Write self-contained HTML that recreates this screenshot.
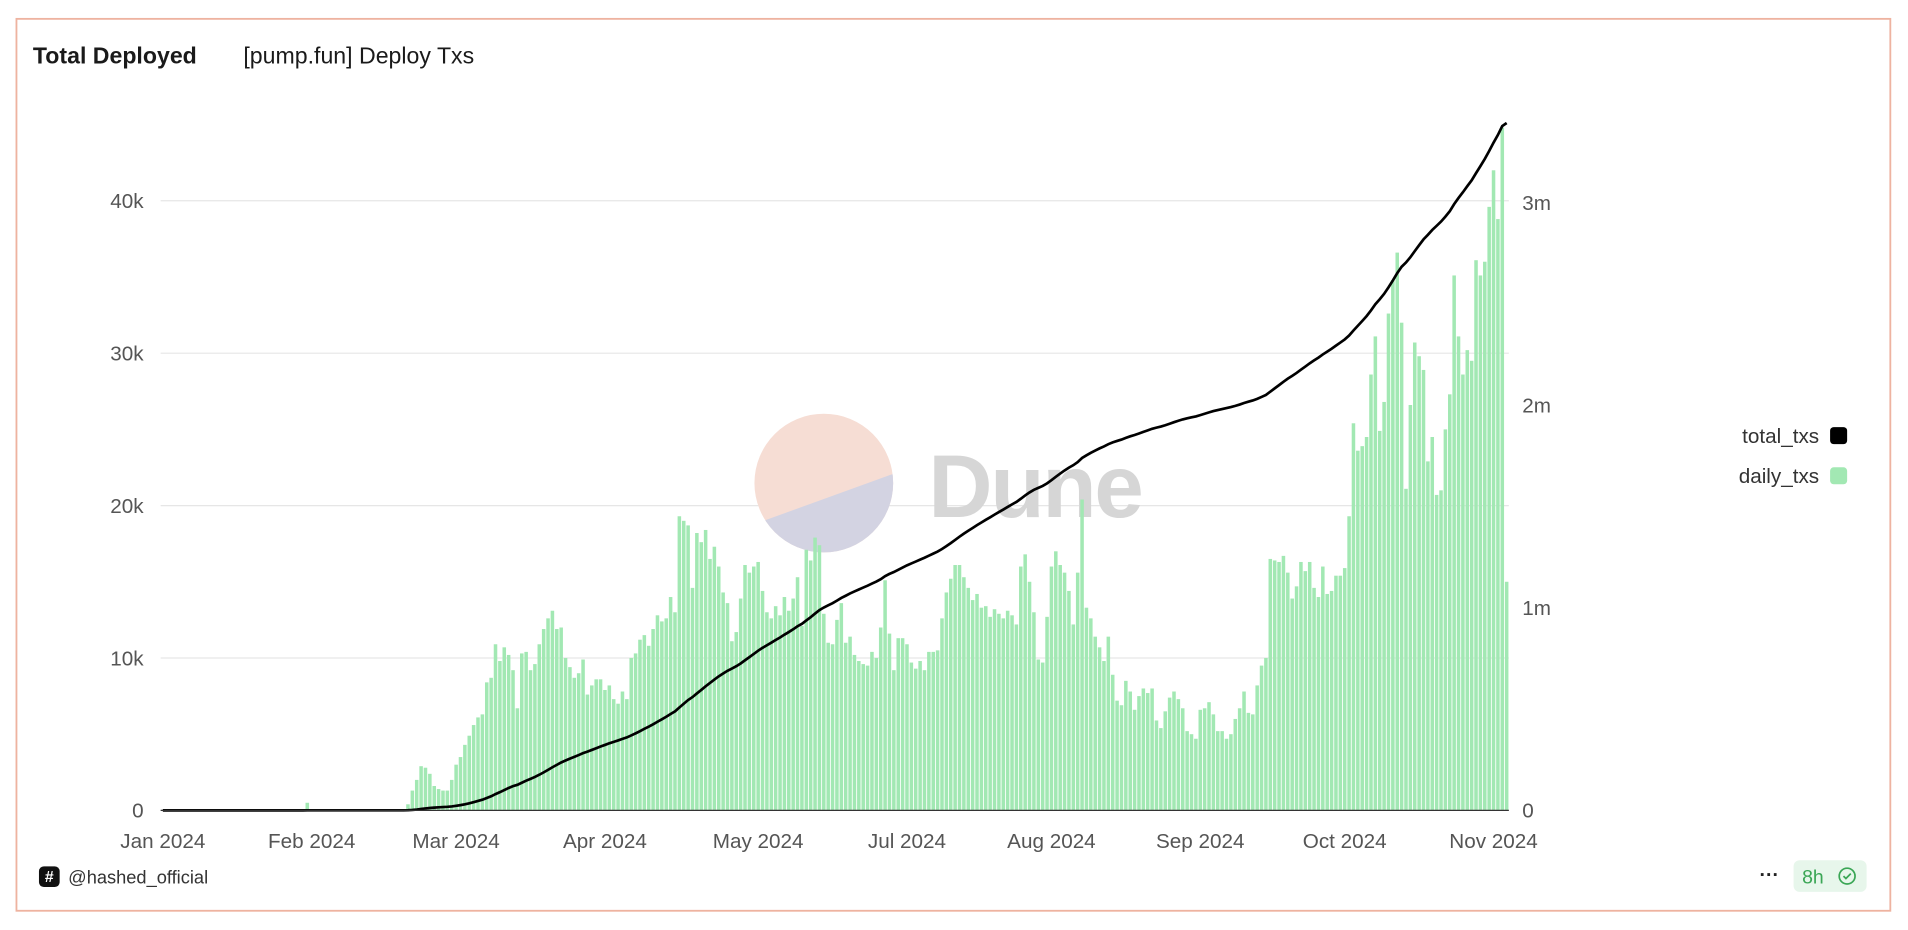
<!DOCTYPE html>
<html><head><meta charset="utf-8"><style>
html,body{margin:0;padding:0;background:#fff;width:1908px;height:930px;overflow:hidden}
svg{display:block;font-family:"Liberation Sans",sans-serif}
</style></head><body>
<svg id="chart" width="1908" height="930" viewBox="0 0 1568 764.3" xmlns="http://www.w3.org/2000/svg">
<rect x="13.5" y="15.5" width="1540" height="733" fill="#fff" stroke="#eeb3a0" stroke-width="1.5"/>
<text x="27" y="52" font-size="19" font-weight="bold" fill="#1a1a1a">Total Deployed</text>
<text x="200" y="52" font-size="19" fill="#1a1a1a">[pump.fun] Deploy Txs</text>
<g id="grid"></g>
<g>
<clipPath id="cc"><circle cx="677" cy="397" r="57"/></clipPath>
<g clip-path="url(#cc)"><rect x="610" y="330" width="140" height="140" fill="#f6ddd4"/><polygon points="600,438 760,380 760,470 600,470" fill="#d3d3e2"/></g>
<text x="763" y="425" font-size="73" font-weight="bold" fill="#d6d6d6" textLength="177">Dune</text>
</g>
<g id="bars"></g>
<path id="line" fill="none" stroke="#000" stroke-width="2.2"/>
<g id="axes"></g>
<g>
<text x="1495" y="364" font-size="17" fill="#333" text-anchor="end">total_txs</text>
<rect x="1504" y="351" width="14" height="14" rx="3" fill="#000"/>
<text x="1495" y="397" font-size="17" fill="#333" text-anchor="end">daily_txs</text>
<rect x="1504" y="384" width="14" height="14" rx="3" fill="#a2e8b3"/>
</g>
<g>
<rect x="32" y="712" width="17" height="17" rx="4" fill="#111"/>
<text x="40.5" y="725" font-size="13" font-weight="bold" fill="#fff" text-anchor="middle">#</text>
<text x="56" y="726" font-size="15" fill="#333">@hashed_official</text>
<text x="1446" y="724" font-size="16" font-weight="bold" fill="#222">···</text>
<rect x="1474" y="707" width="60" height="26" rx="5" fill="#e7f6eb"/>
<text x="1481" y="726" font-size="16" fill="#3aa655">8h</text>
<circle cx="1518" cy="720" r="6.5" fill="none" stroke="#3aa655" stroke-width="1.4"/>
<path d="M1515 720 l2 2 l4 -4" fill="none" stroke="#3aa655" stroke-width="1.4"/>
</g>
</svg>
<script>
const dailyPre = [0,0,0,0,0,0,0,0,0,0,0,0,0,0,0,0,0,0,0,0,0,0,0,0,0,0,0,0,0,0,0,0,0,500,0,0,0,0,0,0,0,0,0,0,0,0,0,0,0,0,0,0,0,0,0,0];
const dailyMain = [400,1300,2000,2900,2800,2400,1600,1400,1300,1300,2000,3000,3500,4300,4900,5600,6100,6300,8400,8700,10900,9800,10700,10200,9200,6700,10300,10400,9200,9600,10900,11900,12600,13100,11900,12000,10000,9400,8700,9000,9900,7600,8200,8600,8600,7900,8200,7300,7000,7800,7300,10000,10300,11200,11500,10800,11900,12800,12400,12600,14000,13000,19300,19000,18700,14600,18200,17600,18400,16500,17300,16000,14300,13600,11100,11700,13900,16100,15600,16000,16300,14400,13000,12600,13400,12800,14000,13100,13900,15300,12100,17100,16400,17900,17400,12900,11000,10900,12500,13600,11000,11400,10200,9800,9600,9500,10400,10000,12000,15100,11600,9200,11300,11300,10900,9700,9300,9800,9200,10400,10400,10500,12600,14300,15200,16100,16100,15300,14600,13800,14200,13300,13400,12700,13200,12900,12600,13100,12800,12200,16000,16800,15000,13000,9900,9700,12700,16000,17000,16100,15600,14400,12200,15600,20400,13300,12600,11400,10700,9800,11400,8900,7200,6900,8500,7800,6600,7500,8000,7700,8000,5900,5400,6500,7400,7800,7300,6700,5200,5000,4700,6600,6700,7100,6300,5200,5200,4700,5000,6000,6700,7800,6400,6300,8200,9500,10000,16500,16400,16300,16700,15600,13900,14700,16300,15700,16300,14600,14000,16000,14200,14400,15400,15400,15900,19300,25400,23600,23900,24500,28600,31100,24900,26800,32600,34800,36600,32000,21100,26600,30700,29800,28900,22900,24500,20700,21000,25000,27300,35100,31100,28600,30200,29500,36100,35100,36000,39600,42000,38800,44800,15000];
const daily = dailyPre.concat(dailyMain);
const leftTicks = [0,10000,20000,30000,40000];
const leftTickLabels = ["0","10k","20k","30k","40k"];
const rightTicks = [0,1000000,2000000,3000000];
const rightTickLabels = ["0","1m","2m","3m"];
const xTickIdx = [0,34,67,101,136,170,203,237,270,304];
const xTickLabels = ["Jan 2024","Feb 2024","Mar 2024","Apr 2024","May 2024","Jul 2024","Aug 2024","Sep 2024","Oct 2024","Nov 2024"];

const NS="http://www.w3.org/2000/svg";
const X0=132,X1=1240,Y0=666;
const n=daily.length, bw=(X1-X0)/n;
const yL=v=>Y0-v*12.525/1000;
const yR=v=>Y0-v*164/1000000;
const xB=i=>X0+i*bw;
function mk(t,a,p){const e=document.createElementNS(NS,t);for(const k in a)e.setAttribute(k,a[k]);p.appendChild(e);return e;}
const grid=document.getElementById('grid'),axes=document.getElementById('axes'),bars=document.getElementById('bars');
leftTicks.forEach((v,i)=>{
  const l=mk('line',{x1:X0,x2:X1,y1:yL(v),y2:yL(v),stroke:'#e6e6e6','stroke-width':1},grid);
  
  
  const t=mk('text',{x:118,y:yL(v)+6,'font-size':17,fill:'#555','text-anchor':'end'},axes);
  t.textContent=leftTickLabels[i];
  
  
});
rightTicks.forEach((v,i)=>{
  const t=mk('text',{x:1251,y:(Y0-v*166.5/1000000)+6,'font-size':17,fill:'#555'},axes);
  t.textContent=rightTickLabels[i];
  
  
});
xTickIdx.forEach((d,i)=>{
  const t=mk('text',{x:xB(d)+bw/2,y:697,'font-size':17,fill:'#555','text-anchor':'middle'},axes);
  t.textContent=xTickLabels[i];
  
  
});
daily.forEach((v,i)=>{
  if(v<=0)return;
  const r=mk('rect',{x:xB(i)+0.35,y:yL(v),width:Math.max(bw-0.7,0.5),height:Y0-yL(v),fill:'#a2e8b3'},bars);
  
  
});
let cum=0,d='';
daily.forEach((v,i)=>{cum+=v;d+=(i?'L':'M')+(xB(i)+bw/2).toFixed(2)+' '+yR(cum).toFixed(2);});
document.getElementById('line').setAttribute('d',d);
const base=mk('line',{x1:X0,x2:X1,y1:Y0,y2:Y0,stroke:'#333','stroke-width':1},axes);


</script>
</body></html>
